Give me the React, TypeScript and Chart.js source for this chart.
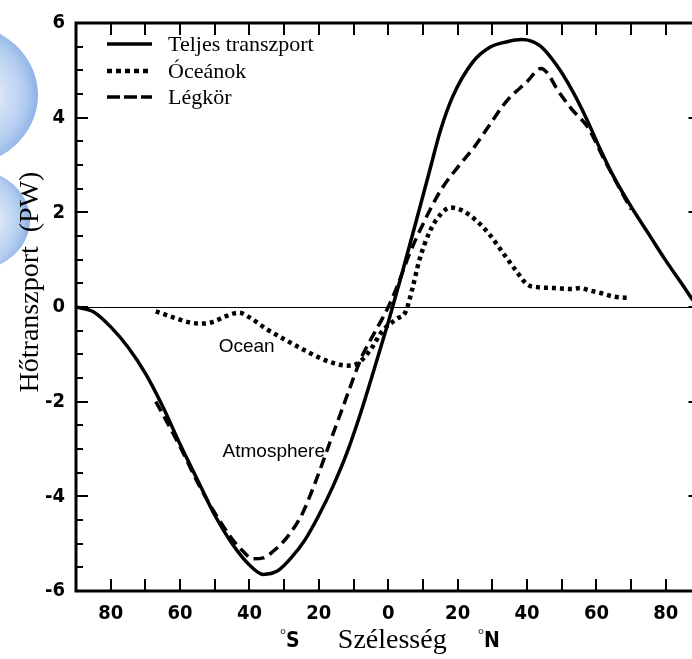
import React, { useEffect, useRef } from "react";
import { Chart, registerables } from "chart.js";

Chart.register(...registerables);

// Meridional heat transport (PW) by latitude (negative = southern hemisphere)
const totalLat = [-90, -85, -80, -75, -70, -65, -60, -55, -50, -45, -40, -36, -32, -28, -24, -20, -16, -12, -8, -4, 0, 4, 8, 12, 15, 18.6, 24.4, 29.3, 34, 38.5, 43.7, 48.6, 53.2, 57, 61, 65, 70, 75, 80, 85, 88, 90];
const totalPW = [0, -0.1, -0.42, -0.85, -1.4, -2.1, -2.9, -3.65, -4.4, -5.0, -5.45, -5.65, -5.58, -5.3, -4.92, -4.4, -3.8, -3.1, -2.25, -1.3, -0.32, 0.72, 1.8, 2.9, 3.72, 4.45, 5.18, 5.49, 5.6, 5.65, 5.52, 5.1, 4.55, 4.0, 3.35, 2.75, 2.12, 1.55, 0.98, 0.45, 0.13, 0];

const oceanLat = [-67, -62, -57, -53, -50, -47, -43, -40, -35, -30, -25, -19, -15, -12, -9, -5.3, -1.6, 2.4, 5, 7, 9, 12, 15, 18, 21, 25, 29, 33, 37, 40, 43, 48, 53, 55.3, 58, 61, 65, 69.6];
const oceanPW = [-0.09, -0.22, -0.33, -0.35, -0.3, -0.2, -0.12, -0.22, -0.47, -0.68, -0.88, -1.1, -1.2, -1.24, -1.2, -0.92, -0.5, -0.25, -0.1, 0.4, 1.0, 1.6, 1.95, 2.1, 2.05, 1.85, 1.55, 1.15, 0.75, 0.48, 0.42, 0.4, 0.38, 0.4, 0.35, 0.3, 0.22, 0.19];

const atmLat = [-67, -64, -60, -55, -50, -45, -42, -39, -36, -33, -29, -25, -21, -17, -13, -9, -7.3, -5, -1.6, 0, 2.7, 6, 10, 15, 20, 25, 28.7, 34, 40, 44, 46, 48.5, 53, 57.6, 62, 66, 70];
const atmPW = [-2.0, -2.4, -2.95, -3.7, -4.35, -4.9, -5.15, -5.32, -5.3, -5.15, -4.85, -4.4, -3.7, -2.9, -2.1, -1.3, -1.0, -0.68, -0.23, 0.0, 0.46, 1.1, 1.75, 2.45, 2.95, 3.4, 3.79, 4.34, 4.76, 5.04, 4.93, 4.62, 4.17, 3.79, 3.15, 2.6, 2.06];

const seriesNames = ["Teljes transzport", "Óceánok", "Légkör"];
const xTickValues = [-80, -60, -40, -20, 0, 20, 40, 60, 80];
const yTickValues = [-6, -4, -2, 0, 2, 4, 6];
const yTitle = "Hőtranszport  (PW)";
const xTitle = "Szélesség";
const hemisphereLetters = ["S", "N"];
const curveNotes = [
  { text: "Ocean", lat: -40.8, pw: -0.83 },
  { text: "Atmosphere", lat: -33, pw: -3.05 },
];

const NARROW = '"Liberation Sans Narrow", "DejaVu Sans Condensed", "Liberation Sans", sans-serif';
const SERIF = '"Liberation Serif", "DejaVu Serif", serif';
const SANS = '"Liberation Sans", Arial, sans-serif';

const toPoints = (xs: number[], ys: number[]) => xs.map((x, i) => ({ x, y: ys[i] }));

// soft blue shapes peeking in at the left edge
const backdropPlugin = {
  id: "backdrop",
  beforeDraw(chart: any) {
    const ctx = chart.ctx as CanvasRenderingContext2D;
    ctx.save();
    const blob = (cx: number, cy: number, rx: number, ry: number) => {
      const g = ctx.createRadialGradient(cx + rx * 0.35, cy, rx * 0.1, cx, cy, Math.max(rx, ry));
      g.addColorStop(0, "#e3edf9");
      g.addColorStop(0.7, "#b3cdf0");
      g.addColorStop(1, "#8cb1e6");
      ctx.fillStyle = g;
      ctx.beginPath();
      ctx.ellipse(cx, cy, rx, ry, 0, 0, Math.PI * 2);
      ctx.fill();
    };
    blob(-42, 95, 80, 72);
    blob(-32, 220, 62, 52);
    ctx.restore();
  },
};

// frame, inward ticks and zero line
const framePlugin = {
  id: "frame",
  beforeDatasetsDraw(chart: any) {
    const ctx = chart.ctx as CanvasRenderingContext2D;
    const a = chart.chartArea;
    const xs = chart.scales.x;
    const ys = chart.scales.y;
    ctx.save();
    ctx.strokeStyle = "#000";
    ctx.lineCap = "butt";

    const y0 = Math.round(ys.getPixelForValue(0)) + 0.5;
    ctx.lineWidth = 1;
    ctx.beginPath();
    ctx.moveTo(a.left, y0);
    ctx.lineTo(a.right, y0);
    ctx.stroke();

    ctx.lineWidth = 2;
    ctx.beginPath();
    for (let v = -80; v <= 80; v += 10) {
      const px = Math.round(xs.getPixelForValue(v));
      ctx.moveTo(px, a.bottom);
      ctx.lineTo(px, a.bottom - 12);
      ctx.moveTo(px, a.top);
      ctx.lineTo(px, a.top + 12);
    }
    for (let v = -5.5; v <= 5.5; v += 0.5) {
      const py = Math.round(ys.getPixelForValue(v));
      const len = Math.abs(v % 2) < 1e-6 ? 12 : 7;
      ctx.moveTo(a.left, py);
      ctx.lineTo(a.left + len, py);
      ctx.moveTo(a.right, py);
      ctx.lineTo(a.right - len, py);
    }
    ctx.stroke();

    ctx.lineWidth = 3;
    ctx.strokeRect(a.left, a.top, a.right - a.left, a.bottom - a.top);
    ctx.restore();
  },
};

// legend, axis titles and curve notes
const textPlugin = {
  id: "texts",
  afterDraw(chart: any) {
    const ctx = chart.ctx as CanvasRenderingContext2D;
    const xs = chart.scales.x;
    const ys = chart.scales.y;
    ctx.save();
    ctx.fillStyle = "#000";
    ctx.strokeStyle = "#000";

    // legend
    const rows = [44, 71, 97];
    chart.data.datasets.forEach((ds: any, i: number) => {
      const y = rows[i];
      ctx.save();
      ctx.lineWidth = ds.borderWidth;
      ctx.setLineDash(ds.legendDash || []);
      ctx.lineCap = "butt";
      ctx.beginPath();
      ctx.moveTo(107, y);
      ctx.lineTo(152, y);
      ctx.stroke();
      ctx.restore();
      ctx.font = `22px ${SERIF}`;
      ctx.textAlign = "left";
      ctx.textBaseline = "middle";
      ctx.fillText(ds.label, 168, y + 1);
    });

    // y title
    ctx.save();
    ctx.translate(31, 282);
    ctx.rotate(-Math.PI / 2);
    ctx.font = `28px ${SERIF}`;
    ctx.textAlign = "center";
    ctx.textBaseline = "middle";
    ctx.fillText(yTitle, 0, 0);
    ctx.restore();

    // x title with hemisphere marks
    const ty = 641;
    ctx.font = `28px ${SERIF}`;
    ctx.textAlign = "center";
    ctx.textBaseline = "middle";
    ctx.fillText(xTitle, xs.getPixelForValue(0) + 4, ty);
    const marks = [286, 484];
    hemisphereLetters.forEach((letter, i) => {
      ctx.font = `15px ${SERIF}`;
      ctx.textAlign = "right";
      ctx.textBaseline = "middle";
      ctx.fillText("°", marks[i], ty - 6);
      ctx.font = `bold 21px ${NARROW}`;
      ctx.textAlign = "left";
      ctx.fillText(letter, marks[i], ty + 1);
    });

    // curve notes
    ctx.font = `19px ${SANS}`;
    ctx.textAlign = "center";
    ctx.textBaseline = "middle";
    curveNotes.forEach((n) => {
      ctx.fillText(n.text, xs.getPixelForValue(n.lat), ys.getPixelForValue(n.pw));
    });
    ctx.restore();
  },
};

export default function App() {
  const canvasRef = useRef<HTMLCanvasElement | null>(null);

  useEffect(() => {
    const canvas = canvasRef.current;
    if (!canvas) return;
    const tickFont = { family: NARROW, size: 20, weight: "bold" as const };
    const chart = new Chart(canvas, {
      type: "line",
      data: {
        datasets: [
          {
            label: seriesNames[0],
            data: toPoints(totalLat, totalPW),
            borderColor: "#000",
            borderWidth: 3.5,
            pointRadius: 0,
            cubicInterpolationMode: "monotone",
            fill: false,
            legendDash: [],
          } as any,
          {
            label: seriesNames[1],
            data: toPoints(oceanLat, oceanPW),
            borderColor: "#000",
            borderWidth: 4.5,
            borderDash: [4, 4],
            borderCapStyle: "butt",
            pointRadius: 0,
            cubicInterpolationMode: "monotone",
            fill: false,
            legendDash: [5, 4],
          } as any,
          {
            label: seriesNames[2],
            data: toPoints(atmLat, atmPW),
            borderColor: "#000",
            borderWidth: 3.5,
            borderDash: [11, 6],
            borderCapStyle: "butt",
            pointRadius: 0,
            cubicInterpolationMode: "monotone",
            fill: false,
            legendDash: [13, 4],
          } as any,
        ],
      },
      options: {
        responsive: false,
        animation: false,
        devicePixelRatio: 1,
        layout: { padding: { top: 13, right: 11.5, left: 0, bottom: 0 } },
        plugins: {
          legend: { display: false },
          tooltip: { enabled: false },
        },
        scales: {
          x: {
            type: "linear",
            min: -90,
            max: 90,
            afterBuildTicks: (s: any) => {
              s.ticks = xTickValues.map((v) => ({ value: v }));
            },
            afterFit: (s: any) => {
              s.height = 68;
            },
            ticks: {
              callback: (v: any) => String(Math.abs(Number(v))),
              font: tickFont,
              color: "#000",
              padding: 11,
              maxRotation: 0,
              autoSkip: false,
            },
            grid: { display: false, drawTicks: false },
            border: { display: false },
          },
          y: {
            type: "linear",
            min: -6,
            max: 6,
            afterBuildTicks: (s: any) => {
              s.ticks = yTickValues.map((v) => ({ value: v }));
            },
            afterFit: (s: any) => {
              s.width = 76;
            },
            ticks: {
              font: tickFont,
              color: "#000",
              padding: 11,
              autoSkip: false,
            },
            grid: { display: false, drawTicks: false },
            border: { display: false },
          },
        },
      },
      plugins: [backdropPlugin, framePlugin, textPlugin],
    });
    return () => chart.destroy();
  }, []);

  return (
    <div
      style={{
        position: "fixed",
        left: 0,
        top: 0,
        width: 692,
        height: 659,
        overflow: "hidden",
        background: "#fff",
      }}
    >
      <canvas ref={canvasRef} width={712} height={659} style={{ display: "block" }} />
    </div>
  );
}
